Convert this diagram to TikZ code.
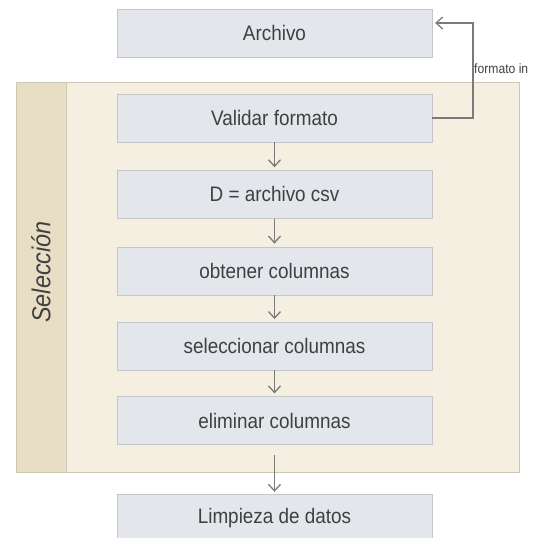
\documentclass[tikz,border=0pt]{standalone}
\usepackage{fontspec}
\setmainfont[FakeStretch=0.9]{Liberation Sans}
\usetikzlibrary{arrows.meta, positioning, calc}
\definecolor{boxfill} {HTML}{E3E6EA}
\definecolor{boxline} {HTML}{C4C6C8}
\definecolor{lanefill}{HTML}{F5EFE1}
\definecolor{laneside}{HTML}{E8DEC5}
\definecolor{laneline}{HTML}{CFC7B5}
\definecolor{txt}     {HTML}{404040}
\definecolor{flow}    {HTML}{7A7A7A}

\begin{document}
\begin{tikzpicture}[x=1pt, y=-1pt, font=\fontsize{21}{25}\selectfont\color{txt},
    stepbox/.style={draw=boxline, fill=boxfill, minimum width=315pt, minimum height=48pt, inner sep=0pt},
    flowarrow/.style={draw=flow, line width=1.3pt, -{Straight Barb[length=6.5pt, width=12pt]}}]
  \useasboundingbox (0,0) rectangle (542,538);
  % lane
  \draw[draw=laneline, fill=lanefill] (16,82) rectangle (519,472);
  \draw[draw=laneline, fill=laneside] (16,82) rectangle (66,472);
  \node[rotate=90, font=\fontsize{26}{30}\selectfont\itshape\color{txt}] (lane) at (41,272) {Selección};
  % steps
  \node[stepbox] (archivo) at (274.5,33) {Archivo};
  \node[stepbox] (validar) at (274.5,118) {Validar formato};
  \node[stepbox, below=28pt of validar] (csv) {D = archivo csv};
  \node[stepbox, below=28pt of csv] (obtener) {obtener columnas};
  \node[stepbox, below=27pt of obtener] (selec) {seleccionar columnas};
  \node[stepbox, below=26pt of selec] (elim) {eliminar columnas};
  \node[stepbox, below=49pt of elim] (limpieza) {Limpieza de datos};
  % arrows
  \foreach \a/\b in {validar/csv, csv/obtener, obtener/selec, selec/elim}
    \draw[flowarrow, shorten >=3pt] (\a) -- (\b);
  \draw[flowarrow, shorten <=10pt, shorten >=2pt] (elim) -- (limpieza);
  \coordinate (loop) at (473,23);
  \draw[flowarrow] (validar.east) -| (loop) -- ($(archivo.east)+(3,-10)$);
  \node[anchor=west, inner sep=0pt, font=\fontsize{13.5}{16}\selectfont\color{txt}] (fmt) at (474,69) {formato in};
\end{tikzpicture}
\end{document}
